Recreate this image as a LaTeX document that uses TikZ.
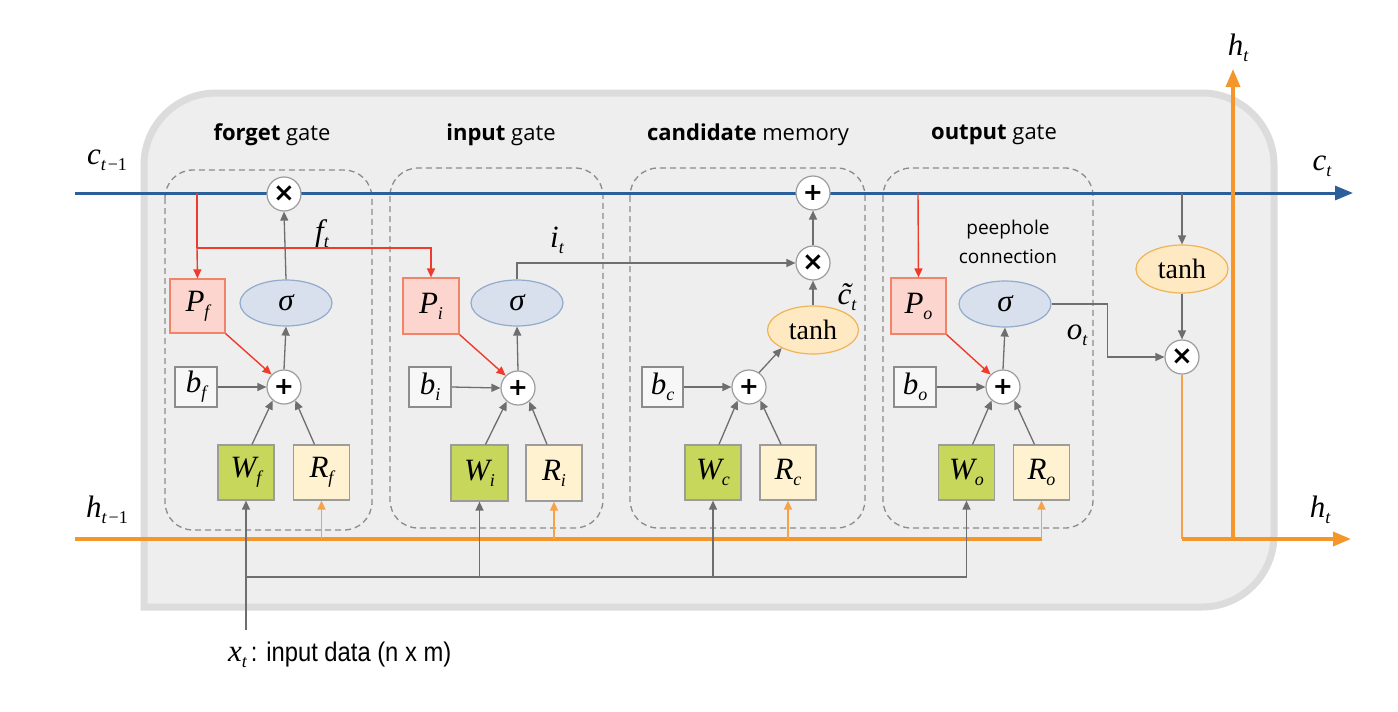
\documentclass[tikz,border=0pt]{standalone}
\usepackage{fontspec}
\setmainfont{Liberation Serif}
\newfontfamily\ttl{Open Sans}
\newfontfamily\tms{Liberation Serif}
\newfontfamily\nar[FakeStretch=0.88]{Liberation Sans}
\newfontfamily\opsym{DejaVu Sans}
\usetikzlibrary{arrows.meta,shapes.geometric}
\definecolor{boxfill}{HTML}{EEEEEE}
\definecolor{boxline}{HTML}{DCDCDC}
\definecolor{cblue}{HTML}{2C5E9A}
\definecolor{horange}{HTML}{F5962A}
\definecolor{thinor}{HTML}{F7A24A}
\definecolor{redl}{HTML}{EE3B2B}
\definecolor{gline}{HTML}{6E6E6E}
\definecolor{dashc}{HTML}{8C8C8C}
\definecolor{pfill}{HTML}{FCD5CE}
\definecolor{pline}{HTML}{F08468}
\definecolor{wfill}{HTML}{C7D75C}
\definecolor{rfill}{HTML}{FEF2D0}
\definecolor{bfill}{HTML}{F7F7F7}
\definecolor{sfill}{HTML}{D7E0EC}
\definecolor{sline}{HTML}{92ABCB}
\definecolor{tfill}{HTML}{FEE9C2}
\definecolor{tline}{HTML}{F0B356}
\definecolor{nline}{HTML}{9C9C9C}
\newcommand\V[2]{{\tms\itshape\fontsize{31}{32}\selectfont #1\raisebox{-6pt}{\fontsize{18}{19}\selectfont #2}}}
\newcommand\opplus{{\opsym\bfseries\fontsize{24}{24}\selectfont +}}
\newcommand\optimes{{\opsym\bfseries\fontsize{26}{26}\selectfont ×}}
\begin{document}
\begin{tikzpicture}[x=1pt,y=-1pt,
  sq/.style={draw=nline, line width=1.2pt, inner sep=0pt, minimum width=56pt, minimum height=55pt},
  pbox/.style={sq, fill=pfill, draw=pline},
  wbox/.style={sq, fill=wfill},
  rbox/.style={sq, fill=rfill},
  bbox/.style={sq, fill=bfill, draw=dashc, minimum width=42pt, minimum height=40pt},
  sig/.style={ellipse, fill=sfill, draw=sline, line width=1.2pt, minimum width=92pt, minimum height=46pt, inner sep=0pt, font=\tms\itshape\fontsize{31}{31}\selectfont},
  tnh/.style={ellipse, fill=tfill, draw=tline, line width=1.2pt, minimum width=92pt, minimum height=48pt, inner sep=0pt, font=\tms\fontsize{28}{28}\selectfont},
  op/.style={circle, fill=white, draw=nline, line width=1.2pt, minimum size=34pt, inner sep=0pt},
  garr/.style={draw=gline, line width=1.3pt, -{Triangle[length=9pt,width=8pt]}},
  gln/.style={draw=gline, line width=1.3pt},
  rarr/.style={draw=redl, line width=1.4pt, -{Triangle[length=9pt,width=8pt]}},
  rln/.style={draw=redl, line width=1.4pt},
  oarr/.style={draw=thinor, line width=1.4pt, -{Triangle[length=9pt,width=8pt]}},
  oln/.style={draw=thinor, line width=1.6pt},
  othick/.style={draw=horange, line width=3.5pt},
  bigo/.style={othick, -{Triangle[length=18pt,width=14pt]}},
  cln/.style={draw=cblue, line width=3pt, -{Triangle[length=18pt,width=14pt]}},
  gate/.style={draw=dashc, dash pattern=on 6pt off 4pt, line width=1.3pt, rounded corners=28pt},
  title/.style={font=\ttl\fontsize{22}{26}\selectfont, inner sep=0pt},
  lab/.style={inner sep=0pt}
]
\useasboundingbox[fill=white] (0,0) rectangle (1398,712);
% cell background
\draw[line width=7pt, draw=boxline, fill=boxfill] (144,607) -- (144,165)
  arc[start angle=180,end angle=270,radius=72] -- (1202,93)
  arc[start angle=270,end angle=360,radius=72] -- (1274,535)
  arc[start angle=0,end angle=90,radius=72] -- cycle;
% gate frames
\draw[gate] (165,170) rectangle (372,530);
\draw[gate] (390,168) rectangle (603,528);
\draw[gate] (630,168) rectangle (865,528);
\draw[gate] (883,168) rectangle (1093,528);
% titles
\node[title] (t1) at (272,135) {\textbf{forget} gate};
\node[title] (t2) at (501,135) {\textbf{input} gate};
\node[title] (t3) at (748,135) {\textbf{candidate} memory};
\node[title] (t4) at (994,135) {\textbf{output} gate};
% coordinates
\coordinate (cin) at (75,193);
\coordinate (cout) at (1353,193);
\coordinate (hin) at (75,539);
\coordinate (hy) at (0,539);
\coordinate (gy) at (0,577);
\coordinate (xt) at (246,630);
\coordinate (cf) at (197,193);
\coordinate (rf) at (197,248);
\coordinate (co) at (918,193);
\coordinate (cr) at (1182,193);
\coordinate (hc) at (1182,539);
\coordinate (hend) at (1351,539);
\coordinate (hT) at (1233,539);
\coordinate (htop) at (1233,69);
% cell state line
\draw[cln] (cin) -- (cout);
% red peephole line (starts on c line)
\draw[rln] (cf) -- (rf);
% forget gate
\node[op] (xf) at (284,194) {\optimes};
\node[sig] (sf) at (286,303) {σ};
\node[op] (pf) at (284,387) {\opplus};
\node[pbox, minimum width=55pt, minimum height=54pt] (Pf) at (197.5,306) {\V{P}{f}};
\node[bbox] (bf) at (196,387) {\V{b}{f}};
\node[wbox] (Wf) at (246,472.5) {\V{W}{f}};
\node[rbox] (Rf) at (321.5,472.5) {\V{R}{f}};
\node[lab] (ft) at (322,234) {\V{f}{t}};
% input gate
\node[sig] (si) at (517,303) {σ};
\node[op] (pi) at (518,388) {\opplus};
\node[pbox, minimum height=56pt] (Pi) at (431,306) {\V{P}{i}};
\node[bbox] (bi) at (430,387) {\V{b}{i}};
\node[wbox, minimum width=57pt, minimum height=56pt] (Wi) at (479.5,473) {\V{W}{i}};
\node[rbox, minimum height=56pt] (Ri) at (554,473) {\V{R}{i}};
\node[lab] (it) at (557,240) {\V{i}{t}};
% candidate memory
\node[op] (pct) at (813,193) {\opplus};
\node[op] (xc) at (813,263) {\optimes};
\node[tnh, minimum width=91pt] (tc) at (813,330) {tanh};
\node[lab] (ct) at (847,297) {\V{\~{c}}{t}};
\node[op] (pc) at (749,387) {\opplus};
\node[bbox, minimum width=41pt] (bc) at (662.5,387) {\V{b}{c}};
\node[wbox] (Wc) at (713,472.5) {\V{W}{c}};
\node[rbox] (Rc) at (788,472.5) {\V{R}{c}};
% output gate
\node[sig] (so) at (1005,304) {σ};
\node[op] (po) at (1003,387) {\opplus};
\node[pbox, minimum width=55pt, minimum height=56pt] (Po) at (918.5,306) {\V{P}{o}};
\node[bbox] (bo) at (915,387) {\V{b}{o}};
\node[wbox] (Wo) at (966.5,472.5) {\V{W}{o}};
\node[rbox] (Ro) at (1041.5,472.5) {\V{R}{o}};
\node[lab, align=center, font=\ttl\fontsize{19}{29}\selectfont] (peep) at (1008,242) {peephole\\connection};
\node[lab] (ot) at (1077,335) {\V{o}{t}};
% output part
\node[tnh] (tr) at (1182,269) {tanh};
\node[op] (xr) at (1182,357) {\optimes};
% outer labels
\node[lab] (lc0) at (107,160) {\V{c}{t\kern2pt\upshape −1}};
\node[lab] (lh0) at (107,510) {\V{h}{t\kern2pt\upshape −1}};
\node[lab] (lc1) at (1322,166) {\V{c}{t}};
\node[lab] (lh1) at (1238,48) {\V{h}{t}};
\node[lab] (lh2) at (1320,510) {\V{h}{t}};
\node[lab, anchor=west] (xlab) at (228,655) {\V{x}{t}\kern4pt{\nar\fontsize{27}{28}\selectfont : input data (n x m)}};
% forget gate connectors
\draw[rarr] (rf) -- (Pf.north);
\draw[rarr] (rf) -| (Pi.north);
\draw[garr] (sf.north) -- (xf.south);
\draw[garr] (pf.north) -- (sf.south);
\draw[garr] (bf.east) -- (pf.west);
\draw[garr] ([xshift=6pt]Wf.north) -- (pf.-130);
\draw[garr] ([xshift=-7pt]Rf.north) -- (pf.-50);
\draw[rarr] (Pf.south east) -- (pf.135);
% input gate connectors
\draw[garr] (si.north) |- (xc.west);
\draw[garr] (pi.north) -- (si.south);
\draw[garr] (bi.east) -- (pi.west);
\draw[garr] ([xshift=6pt]Wi.north) -- (pi.-130);
\draw[garr] ([xshift=-7pt]Ri.north) -- (pi.-50);
\draw[rarr] (Pi.south east) -- (pi.135);
% candidate connectors
\draw[garr] (xc.north) -- (pct.south);
\draw[garr] (tc.north) -- (xc.south);
\draw[garr] (pc.55) -- (tc.-150);
\draw[garr] (bc.east) -- (pc.west);
\draw[garr] ([xshift=6pt]Wc.north) -- (pc.-130);
\draw[garr] ([xshift=-7pt]Rc.north) -- (pc.-50);
% output gate connectors
\draw[rarr] (co) -- (Po.north);
\draw[garr] (po.north) -- (so.south);
\draw[garr] (bo.east) -- (po.west);
\draw[garr] ([xshift=6pt]Wo.north) -- (po.-130);
\draw[garr] ([xshift=-7pt]Ro.north) -- (po.-50);
\draw[rarr] (Po.south east) -- (po.135);
\draw[garr] (so.east) -- ++(56,0) |- (xr.west);
\draw[garr] (cr) -- (tr.north);
\draw[garr] (tr.south) -- (xr.north);
% hidden state lines
\draw[othick] (hin) -- (Ro.south |- hy);
\draw[oarr] (Ro.south |- hy) -- (Ro.south);
\draw[oarr] (Rf.south |- hy) -- (Rf.south);
\draw[oarr] (Ri.south |- hy) -- (Ri.south);
\draw[oarr] (Rc.south |- hy) -- (Rc.south);
\draw[oln] (xr.south) -- (hc);
\draw[bigo] (hc) -- (hend);
\draw[bigo] (hT) -- (htop);
% input data lines
\draw[garr] (xt) -- (Wf.south);
\draw[gln] (Wf.south |- gy) -- (Wo.south |- gy);
\draw[garr] (Wi.south |- gy) -- (Wi.south);
\draw[garr] (Wc.south |- gy) -- (Wc.south);
\draw[garr] (Wo.south |- gy) -- (Wo.south);
\end{tikzpicture}
\end{document}
